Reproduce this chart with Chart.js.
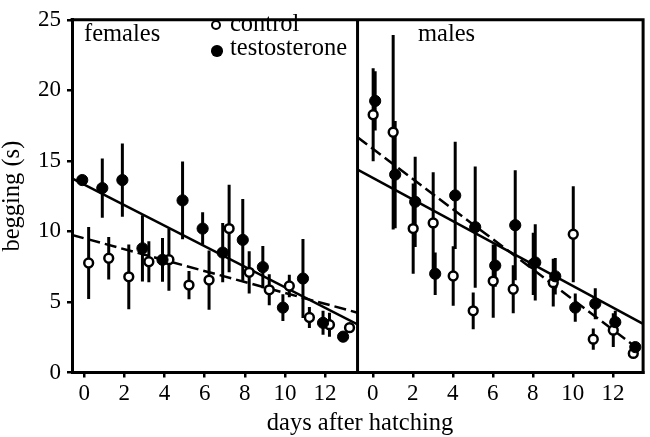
<!DOCTYPE html>
<html><head><meta charset="utf-8">
<script src="https://cdn.jsdelivr.net/npm/chart.js@4/dist/chart.umd.min.js"></script>
<style>
html,body{margin:0;padding:0;background:#fff;}
#wrap{position:relative;width:650px;height:437px;overflow:hidden;background:#fff;}
canvas{position:absolute;left:0;top:0;}
.t{position:absolute;font-family:'Liberation Serif','Times New Roman',serif;font-size:24.5px;line-height:24.5px;color:#000;white-space:nowrap;}
.dot{position:absolute;border-radius:50%;box-sizing:border-box;}
</style></head><body>
<div id="wrap">
<canvas id="c" width="650" height="437"></canvas>
<div class="t" style="left:84px;top:21px">females</div>
<div class="t" style="left:418px;top:21px">males</div>
<div class="dot" style="left:211px;top:20px;width:10px;height:10px;border:2.5px solid #000;background:#fff"></div>
<div class="t" style="left:230px;top:11px">control</div>
<div class="dot" style="left:211px;top:45px;width:11.5px;height:11.5px;background:#000"></div>
<div class="t" style="left:230px;top:34.5px">testosterone</div>
<div class="t" style="left:0;width:720px;text-align:center;top:410px">days after hatching</div>
</div>
<script>
// ---- data ----
const days = [0,1,2,3,4,5,6,7,8,9,10,11,12,13];
const xTickLabels = [0,2,4,6,8,10,12];
const yTickLabels = [0,5,10,15,20,25];

// females
const femT    = [13.64,13.07,13.64,8.80,7.99,12.2,10.2,8.5,9.4,7.47,4.6,6.66,3.52,2.54];
const femTErr = [0.3,2.1,2.6,2.35,1.55,2.75,1.15,2.1,2.9,1.5,0.95,2.8,0.85,0.2];
const femC    = [7.76,8.1,6.78,7.85,8.0,6.2,6.55,10.2,7.1,5.86,6.13,3.9,3.39,3.18];
const femCErr = [2.55,1.5,2.3,1.45,2.2,1.0,2.1,3.1,1.5,1.1,0.8,0.75,0.85,0.2];

// males
const maleT    = [19.25,14.03,12.1,7.0,12.55,10.3,7.58,10.44,7.8,6.82,4.6,4.88,3.57,1.8];
const maleTErr = [2.1,3.8,3.2,1.5,3.8,4.3,1.5,3.9,2.7,1.3,1.0,1.1,0.8,0.2];
const maleC    = [18.27,17.03,10.2,10.6,6.84,4.37,6.48,5.9,7.7,6.37,9.8,2.36,3.0,1.35];
const maleCErr = [3.3,6.9,3.2,3.6,2.1,1.3,2.6,1.7,2.2,1.7,3.4,0.75,1.2,0.2];

// regression lines (end points)
const femLineX  = [-0.61, 13.62];
const femTLine  = [13.76, 3.41];
const femCLine  = [9.75, 4.24];
const maleLineX = [-0.76, 13.51];
const maleTLine = [14.38, 3.45];
const maleCLine = [16.67, 1.42];

// ---- presentation ----
const FONT = "'Liberation Serif','Times New Roman',serif";
const offFemT = -0.1, offFemC = 0.22, offMaleT = 0.12, offMaleC = 0.02;

function pts(vals, off){ return days.map((d,i)=>({x:d+off, y:vals[i]})); }
function bars(vals, errs, off){
  const out = [];
  days.forEach((d,i)=>{ out.push({x:d+off,y:vals[i]-errs[i]},{x:d+off,y:vals[i]+errs[i]},{x:d+off,y:null}); });
  return out;
}
function seg(xs, ys){ return xs.map((x,i)=>({x:x,y:ys[i]})); }

function errDs(vals, errs, off, axis){
  return {type:'line', data:bars(vals,errs,off), xAxisID:axis, yAxisID:'y',
    borderColor:'#000', borderWidth:3, pointRadius:0, spanGaps:false, order:5, borderCapStyle:'butt'};
}
function lineDs(xs, ys, axis, dashed){
  return {type:'line', data:seg(xs,ys), xAxisID:axis, yAxisID:'y',
    borderColor:'#000', borderWidth:2.5, borderDash: dashed?[12,5]:[], pointRadius:0, order:3};
}
function openDs(vals, off, axis){
  return {type:'scatter', label:'control', data:pts(vals,off), xAxisID:axis, yAxisID:'y',
    pointRadius:4.4, borderWidth:2.5, borderColor:'#000', backgroundColor:'#fff', order:1};
}
function fillDs(vals, off, axis){
  return {type:'scatter', label:'testosterone', data:pts(vals,off), xAxisID:axis, yAxisID:'y',
    pointRadius:5.6, borderWidth:1, borderColor:'#000', backgroundColor:'#000', order:0};
}

const gridOpt = {drawOnChartArea:false, drawTicks:true, tickLength:5, color:'#000', lineWidth:2.5};
const borderOpt = {display:true, color:'#000', width:3};
const tickFont = {family:FONT, size:23};

function xScale(min, max){
  return {type:'linear', position:'bottom', stack:'days', stackWeight:1, min:min, max:max,
    afterBuildTicks: s=>{ s.ticks = xTickLabels.map(v=>({value:v})); },
    afterFit: s=>{ s.height = 64.5; },
    ticks:{font:tickFont, color:'#000', padding:3, maxRotation:0, autoSkip:false},
    grid:gridOpt, border:borderOpt};
}

const frame = {id:'frame', afterDraw(chart){
  const {ctx, chartArea:a} = chart; const x2 = chart.scales.x2;
  ctx.save(); ctx.strokeStyle='#000'; ctx.lineWidth=3;
  ctx.beginPath();
  ctx.moveTo(a.left-1.5,a.top); ctx.lineTo(a.right,a.top); ctx.lineTo(a.right,a.bottom+1.5);
  ctx.moveTo(x2.left,a.top); ctx.lineTo(x2.left,a.bottom);
  ctx.stroke(); ctx.restore();
}};

new Chart(document.getElementById('c'), {
  type:'scatter',
  data:{datasets:[
    errDs(femC, femCErr, offFemC, 'x1'),
    errDs(femT, femTErr, offFemT, 'x1'),
    errDs(maleC, maleCErr, offMaleC, 'x2'),
    errDs(maleT, maleTErr, offMaleT, 'x2'),
    lineDs(femLineX, femTLine, 'x1', false),
    lineDs(femLineX, femCLine, 'x1', true),
    lineDs(maleLineX, maleTLine, 'x2', false),
    lineDs(maleLineX, maleCLine, 'x2', true),
    openDs(femC, offFemC, 'x1'),
    fillDs(femT, offFemT, 'x1'),
    openDs(maleC, offMaleC, 'x2'),
    fillDs(maleT, offMaleT, 'x2')
  ]},
  options:{
    responsive:false, animation:false, devicePixelRatio:1,
    layout:{padding:{top:8.5, right:3.5, left:0, bottom:0}},
    plugins:{legend:{display:false}, tooltip:{enabled:false}},
    scales:{
      x1: xScale(-0.61, 13.62),
      x2: xScale(-0.76, 13.51),
      y: {type:'linear', position:'left', min:0, max:25,
        afterBuildTicks: s=>{ s.ticks = yTickLabels.map(v=>({value:v})); },
        afterFit: s=>{ s.width = 72; },
        title:{display:true, text:'begging (s)', font:{family:FONT, size:24.5, lineHeight:1}, color:'#000', padding:0},
        ticks:{font:tickFont, color:'#000', padding:6},
        grid:gridOpt, border:borderOpt}
    }
  },
  plugins:[frame]
});
</script>
</body></html>
